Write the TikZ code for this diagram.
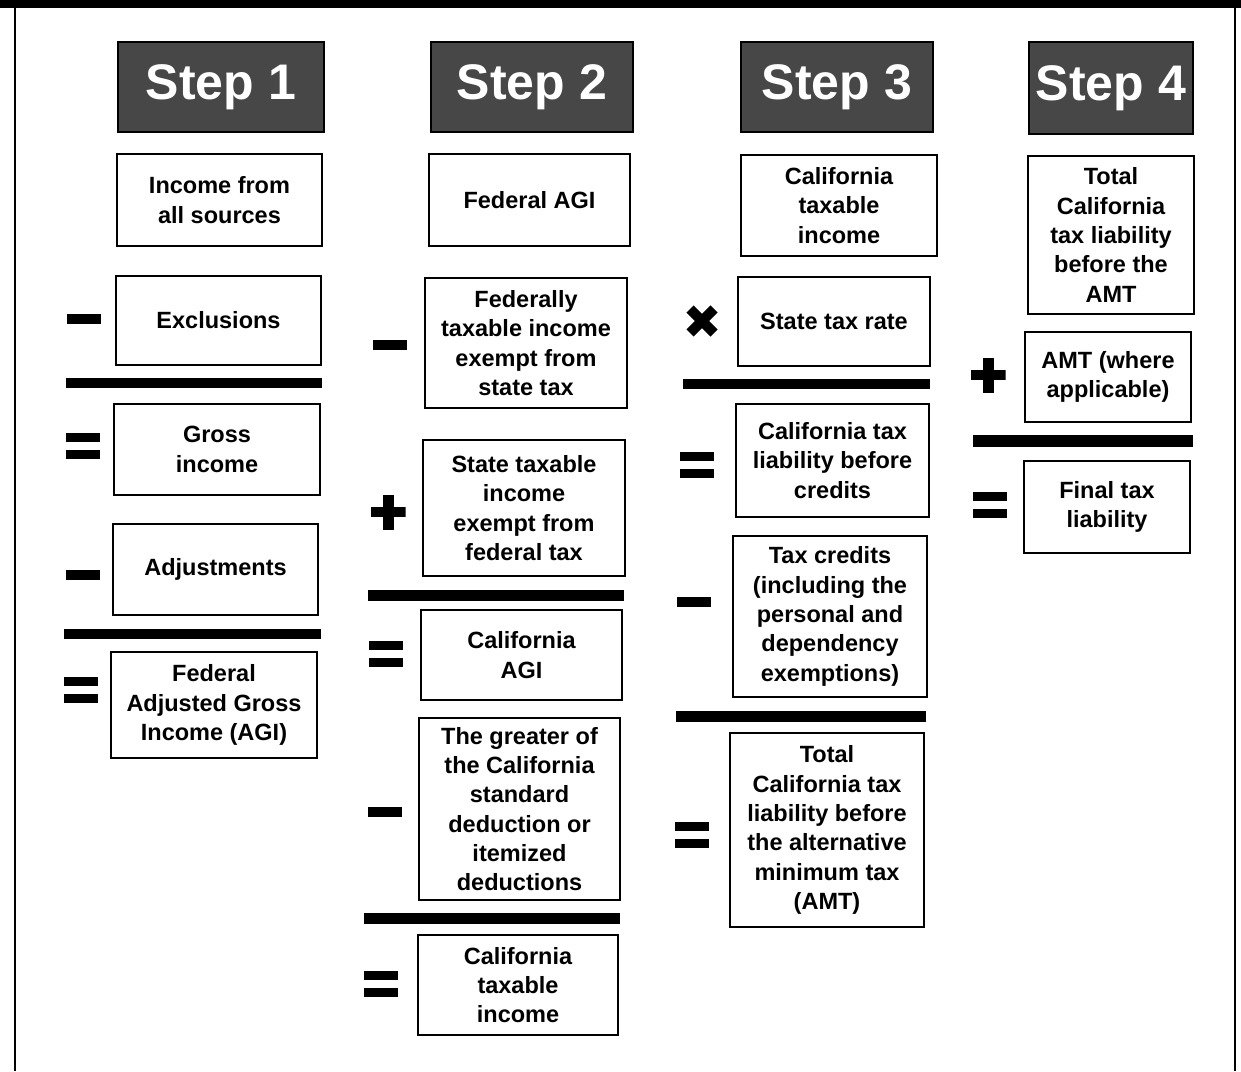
\documentclass[tikz,border=0pt]{standalone}
\usepackage{fontspec}
\setmainfont{Liberation Sans}
\begin{document}
\begin{tikzpicture}[x=1pt,y=-1pt,
  bx/.style={draw=black,line width=2pt,align=center,inner sep=2pt,
    font=\bfseries\fontsize{23.5}{29.3}\selectfont,text=black},
  hdr/.style={draw=black,line width=2.5pt,fill=black!72,inner sep=0pt,text=white,
    font=\bfseries\fontsize{50}{60}\selectfont},
  rulebar/.style={fill=black,inner sep=0pt,minimum height=10pt},
  minusbar/.style={fill=black,inner sep=0pt,minimum width=34pt,minimum height=10pt},
  eqsign/.style={inner sep=0pt,minimum width=34pt,minimum height=26pt,
    path picture={
      \fill[black] (path picture bounding box.north west) rectangle ([yshift=-9pt]path picture bounding box.north east);
      \fill[black] (path picture bounding box.south west) rectangle ([yshift=9pt]path picture bounding box.south east);}},
  plussign/.style={inner sep=0pt,minimum size=35pt,
    path picture={
      \fill[black] ([yshift=5pt]path picture bounding box.west) rectangle ([yshift=-5pt]path picture bounding box.east);
      \fill[black] ([xshift=-5.5pt]path picture bounding box.north) rectangle ([xshift=5.5pt]path picture bounding box.south);}},
  timessign/.style={inner sep=0pt,minimum size=34pt,
    path picture={
      \draw[black,line width=10pt] ([shift={(-12pt,-12pt)}]path picture bounding box.center) -- ([shift={(12pt,12pt)}]path picture bounding box.center);
      \draw[black,line width=10pt] ([shift={(-12pt,12pt)}]path picture bounding box.center) -- ([shift={(12pt,-12pt)}]path picture bounding box.center);}}
]
\useasboundingbox (0,0) rectangle (1241,1071);
% frame
\fill[black] (0,0) rectangle (1241,8);
\draw[line width=2.5pt] (15,0) -- (15,1071);
\draw[line width=2.5pt] (1235,0) -- (1235,1071);

% headers
\node[hdr,minimum width=206pt,minimum height=90pt] (h1) at (221,87) {Step 1};
\node[hdr,minimum width=202pt,minimum height=90pt] (h2) at (532,87) {Step 2};
\node[hdr,minimum width=192pt,minimum height=90pt] (h3) at (837,87) {Step 3};
\node[hdr,minimum width=164pt,minimum height=92pt] (h4) at (1111,88) {Step 4};

% column 1
\node[bx,minimum width=205pt,minimum height=92pt] (c1a) at (219.5,200) {Income from\\all sources};
\node[minusbar] (m1a) at (84,319) {};
\node[bx,minimum width=205pt,minimum height=89pt] (c1b) at (218.5,320.5) {Exclusions};
\node[rulebar,minimum width=256pt] (r1a) at (194,383) {};
\node[eqsign] (e1a) at (83,446) {};
\node[bx,minimum width=206pt,minimum height=91pt] (c1c) at (217,449.5) {Gross\\income};
\node[minusbar] (m1b) at (83,575) {};
\node[bx,minimum width=205pt,minimum height=91pt] (c1d) at (215.5,569.5) {Adjustments};
\node[rulebar,minimum width=257pt] (r1b) at (192.5,634) {};
\node[eqsign] (e1b) at (81,690) {};
\node[bx,minimum width=206pt,minimum height=106pt] (c1e) at (214,705) {Federal\\Adjusted Gross\\Income (AGI)};

% column 2
\node[bx,minimum width=201pt,minimum height=92pt] (c2a) at (529.5,200) {Federal AGI};
\node[minusbar] (m2a) at (390,345) {};
\node[bx,minimum width=202pt,minimum height=130pt] (c2b) at (526,343) {Federally\\taxable income\\exempt from\\state tax};
\node[plussign] (p2) at (388,512) {};
\node[bx,minimum width=202pt,minimum height=136pt] (c2c) at (524,508) {State taxable\\income\\exempt from\\federal tax};
\node[rulebar,minimum width=256pt,minimum height=11pt] (r2a) at (496,595) {};
\node[eqsign] (e2a) at (386,654) {};
\node[bx,minimum width=201pt,minimum height=90pt] (c2d) at (521.5,655) {California\\AGI};
\node[minusbar] (m2b) at (385,812) {};
\node[bx,minimum width=201pt,minimum height=182pt] (c2e) at (519.5,809) {The greater of\\the California\\standard\\deduction or\\itemized\\deductions};
\node[rulebar,minimum width=256pt,minimum height=11pt] (r2b) at (492,918.5) {};
\node[eqsign] (e2b) at (381,984) {};
\node[bx,minimum width=200pt,minimum height=100pt] (c2f) at (518,985) {California\\taxable\\income};

% column 3
\node[bx,minimum width=196pt,minimum height=101pt] (c3a) at (839,205.5) {California\\taxable\\income};
\node[timessign] (t3) at (702,321) {};
\node[bx,minimum width=192pt,minimum height=89pt] (c3b) at (834,321.5) {State tax rate};
\node[rulebar,minimum width=247pt] (r3a) at (806.5,383.5) {};
\node[eqsign] (e3a) at (697,465) {};
\node[bx,minimum width=193pt,minimum height=113pt] (c3c) at (832.5,460.5) {California tax\\liability before\\credits};
\node[minusbar] (m3) at (694,602) {};
\node[bx,minimum width=194pt,minimum height=161pt] (c3d) at (830,616.5) {Tax credits\\(including the\\personal and\\dependency\\exemptions)};
\node[rulebar,minimum width=250pt,minimum height=11pt] (r3b) at (801,716.5) {};
\node[eqsign] (e3b) at (692,835) {};
\node[bx,minimum width=194pt,minimum height=194pt] (c3e) at (827,830) {Total\\California tax\\liability before\\the alternative\\minimum tax\\(AMT)};

% column 4
\node[bx,minimum width=166pt,minimum height=158pt] (c4a) at (1111,235) {Total\\California\\tax liability\\before the\\AMT};
\node[plussign] (p4) at (988,375) {};
\node[bx,minimum width=166pt,minimum height=90pt] (c4b) at (1108,377) {AMT (where\\applicable)};
\node[rulebar,minimum width=220pt,minimum height=12pt] (r4) at (1083,440.5) {};
\node[eqsign] (e4) at (990,505) {};
\node[bx,minimum width=166pt,minimum height=92pt] (c4c) at (1107,507) {Final tax\\liability};
\end{tikzpicture}
\end{document}
